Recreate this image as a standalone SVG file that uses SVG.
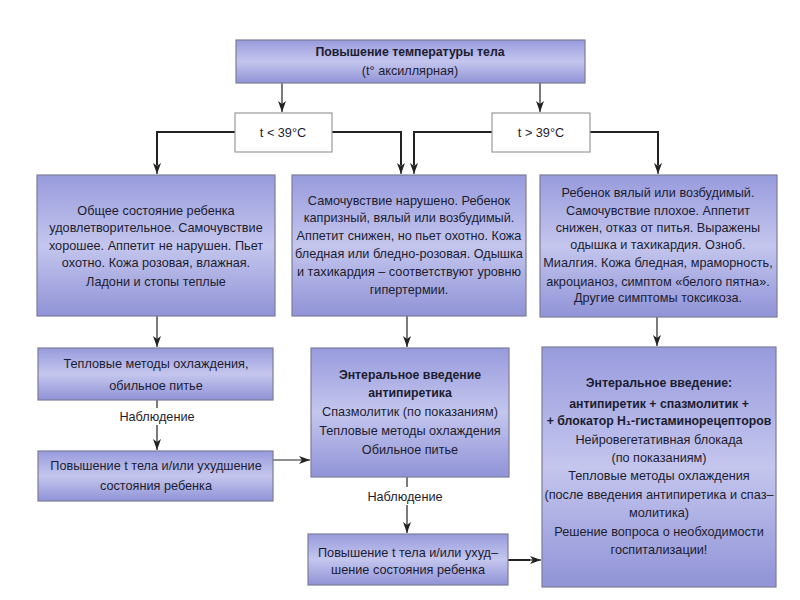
<svg xmlns="http://www.w3.org/2000/svg" width="800" height="600" viewBox="0 0 800 600">
<defs>
<linearGradient id="g" x1="0" y1="0" x2="0" y2="1">
<stop offset="0" stop-color="#989bdc"/>
<stop offset="0.5" stop-color="#c4c6ee"/>
<stop offset="1" stop-color="#9093d6"/>
</linearGradient>
<marker id="ah" markerWidth="11" markerHeight="8" refX="11" refY="4" orient="auto" markerUnits="userSpaceOnUse" viewBox="0 0 11 8">
<path d="M0,0 L11,4 L0,8 L3,4 z" fill="#222"/>
</marker>
</defs>
<style>
.box{fill:url(#g);stroke:#7c7c9a;stroke-width:1.2}
.wbox{fill:#fff;stroke:#9a9a9a;stroke-width:1.2}
text{font-family:"Liberation Sans",Arial,sans-serif;font-size:12.7px;fill:#1c1c30;text-anchor:middle}
.b{font-weight:bold;font-size:12.3px}
.c{fill:none;stroke:#222;stroke-width:1.2}
.h{fill:none;stroke:#222;stroke-width:2}
</style>
<rect width="800" height="600" fill="#fff"/>

<g id="connectors">
<path class="c" d="M282 83 V112" marker-end="url(#ah)"/>
<path class="c" d="M540 83 V112" marker-end="url(#ah)"/>
<path class="h" d="M235 132 H157 V165"/><path class="c" d="M157 164 V174" marker-end="url(#ah)"/>
<path class="h" d="M332 132 H401 V165"/><path class="c" d="M401 164 V174" marker-end="url(#ah)"/>
<path class="h" d="M492 132 H414 V165"/><path class="c" d="M414 164 V174" marker-end="url(#ah)"/>
<path class="h" d="M590 132 H658 V165"/><path class="c" d="M658 164 V174" marker-end="url(#ah)"/>
<path class="c" d="M157 316 V347" marker-end="url(#ah)"/>
<path class="c" d="M157 400 V408"/>
<path class="c" d="M157 425 V450" marker-end="url(#ah)"/>
<path class="c" d="M273 460 H310" marker-end="url(#ah)"/>
<path class="c" d="M407 316 V347" marker-end="url(#ah)"/>
<path class="c" d="M407 477 V487"/>
<path class="c" d="M407 505 V533" marker-end="url(#ah)"/>
<path class="h" d="M508 560 H530"/><path class="c" d="M528 560 H541" marker-end="url(#ah)"/>
<path class="c" d="M657 317 V346" marker-end="url(#ah)"/>
<text x="157" y="421">Наблюдение</text>
<text x="405" y="501">Наблюдение</text>
</g>

<g id="top">
<rect class="box" x="236" y="40" width="349" height="43"/>
<text class="b" x="410" y="56">Повышение температуры тела</text>
<text x="410" y="75">(t° аксиллярная)</text>
</g>

<g id="lt39">
<rect class="wbox" x="235" y="113" width="97" height="39"/>
<text x="283" y="137">t &lt; 39°C</text>
</g>

<g id="gt39">
<rect class="wbox" x="492" y="113" width="98" height="39"/>
<text x="541" y="137">t &gt; 39°C</text>
</g>

<g id="left-state">
<rect class="box" x="37" y="175" width="238" height="141"/>
<text x="156" y="215">Общее состояние ребенка</text>
<text x="156" y="232">удовлетворительное. Самочувствие</text>
<text x="156" y="250">хорошее. Аппетит не нарушен. Пьет</text>
<text x="156" y="267">охотно. Кожа розовая, влажная.</text>
<text x="156" y="286">Ладони и стопы теплые</text>
</g>

<g id="mid-state">
<rect class="box" x="292" y="175" width="234" height="141"/>
<text x="409" y="205">Самочувствие нарушено. Ребенок</text>
<text x="409" y="222">капризный, вялый или возбудимый.</text>
<text x="409" y="240">Аппетит снижен, но пьет охотно. Кожа</text>
<text x="409" y="258">бледная или бледно-розовая. Одышка</text>
<text x="409" y="276">и тахикардия – соответствуют уровню</text>
<text x="409" y="294">гипертермии.</text>
</g>

<g id="right-state">
<rect class="box" x="540" y="175" width="237" height="142"/>
<text x="658" y="197">Ребенок вялый или возбудимый.</text>
<text x="658" y="215">Самочувствие плохое. Аппетит</text>
<text x="658" y="232">снижен, отказ от питья. Выражены</text>
<text x="658" y="249">одышка и тахикардия. Озноб.</text>
<text x="658" y="267">Миалгия. Кожа бледная, мраморность,</text>
<text x="658" y="286">акроцианоз, симптом «белого пятна».</text>
<text x="658" y="302">Другие симптомы токсикоза.</text>
</g>

<g id="left-cooling">
<rect class="box" x="38" y="348" width="235" height="52"/>
<text x="156" y="368">Тепловые методы охлаждения,</text>
<text x="156" y="390">обильное питье</text>
</g>

<g id="left-worse">
<rect class="box" x="38" y="451" width="235" height="50"/>
<text x="156" y="470">Повышение t тела и/или ухудшение</text>
<text x="156" y="490">состояния ребенка</text>
</g>

<g id="mid-treat">
<rect class="box" x="311" y="348" width="198" height="129"/>
<text class="b" x="410" y="379">Энтеральное введение</text>
<text class="b" x="410" y="397">антипиретика</text>
<text x="410" y="416">Спазмолитик (по показаниям)</text>
<text x="410" y="435">Тепловые методы охлаждения</text>
<text x="410" y="454">Обильное питье</text>
</g>

<g id="mid-worse">
<rect class="box" x="308" y="534" width="200" height="51"/>
<text x="408" y="557">Повышение t тела и/или ухуд–</text>
<text x="408" y="574">шение состояния ребенка</text>
</g>

<g id="right-treat">
<rect class="box" x="542" y="347" width="234" height="240"/>
<text class="b" x="659" y="387">Энтеральное введение:</text>
<text class="b" x="659" y="408">антипиретик + спазмолитик +</text>
<text class="b" x="659" y="425">+ блокатор H₁-гистаминорецепторов</text>
<text x="659" y="444">Нейровегетативная блокада</text>
<text x="659" y="462">(по показаниям)</text>
<text x="659" y="480">Тепловые методы охлаждения</text>
<text x="659" y="499">(после введения антипиретика и спаз–</text>
<text x="659" y="517">молитика)</text>
<text x="659" y="536">Решение вопроса о необходимости</text>
<text x="659" y="554">госпитализации!</text>
</g>
</svg>
